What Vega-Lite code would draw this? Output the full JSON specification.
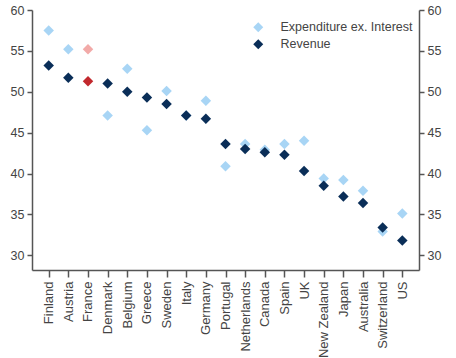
{
  "$schema": "https://vega.github.io/schema/vega-lite/v6.json",
  "width": 387,
  "height": 260,
  "autosize": {"type": "none"},
  "padding": {"left": 32, "top": 10, "right": 37, "bottom": 88},
  "background": "white",
  "config": {
    "font": "Liberation Sans",
    "view": {"stroke": null},
    "axis": {"grid": false, "domainColor": "#555", "tickColor": "#555", "labelColor": "#444", "labelFontSize": 12.5, "tickSize": 5, "domainWidth": 1.5, "tickWidth": 1.5}
  },
  "data": {"values": [
    {"country": "Finland", "series": "Expenditure ex. Interest", "key": "Expenditure ex. Interest", "value": 57.5},
    {"country": "Austria", "series": "Expenditure ex. Interest", "key": "Expenditure ex. Interest", "value": 55.2},
    {"country": "France", "series": "Expenditure ex. Interest", "key": "France Exp", "value": 55.2},
    {"country": "Denmark", "series": "Expenditure ex. Interest", "key": "Expenditure ex. Interest", "value": 47.1},
    {"country": "Belgium", "series": "Expenditure ex. Interest", "key": "Expenditure ex. Interest", "value": 52.8},
    {"country": "Greece", "series": "Expenditure ex. Interest", "key": "Expenditure ex. Interest", "value": 45.3},
    {"country": "Sweden", "series": "Expenditure ex. Interest", "key": "Expenditure ex. Interest", "value": 50.1},
    {"country": "Italy", "series": "Expenditure ex. Interest", "key": "Expenditure ex. Interest", "value": 47.1},
    {"country": "Germany", "series": "Expenditure ex. Interest", "key": "Expenditure ex. Interest", "value": 48.9},
    {"country": "Portugal", "series": "Expenditure ex. Interest", "key": "Expenditure ex. Interest", "value": 40.9},
    {"country": "Netherlands", "series": "Expenditure ex. Interest", "key": "Expenditure ex. Interest", "value": 43.6},
    {"country": "Canada", "series": "Expenditure ex. Interest", "key": "Expenditure ex. Interest", "value": 42.9},
    {"country": "Spain", "series": "Expenditure ex. Interest", "key": "Expenditure ex. Interest", "value": 43.6},
    {"country": "UK", "series": "Expenditure ex. Interest", "key": "Expenditure ex. Interest", "value": 44.0},
    {"country": "New Zealand", "series": "Expenditure ex. Interest", "key": "Expenditure ex. Interest", "value": 39.4},
    {"country": "Japan", "series": "Expenditure ex. Interest", "key": "Expenditure ex. Interest", "value": 39.2},
    {"country": "Australia", "series": "Expenditure ex. Interest", "key": "Expenditure ex. Interest", "value": 37.9},
    {"country": "Switzerland", "series": "Expenditure ex. Interest", "key": "Expenditure ex. Interest", "value": 32.9},
    {"country": "US", "series": "Expenditure ex. Interest", "key": "Expenditure ex. Interest", "value": 35.1},
    {"country": "Finland", "series": "Revenue", "key": "Revenue", "value": 53.2},
    {"country": "Austria", "series": "Revenue", "key": "Revenue", "value": 51.7},
    {"country": "France", "series": "Revenue", "key": "France Rev", "value": 51.3},
    {"country": "Denmark", "series": "Revenue", "key": "Revenue", "value": 51.0},
    {"country": "Belgium", "series": "Revenue", "key": "Revenue", "value": 50.0},
    {"country": "Greece", "series": "Revenue", "key": "Revenue", "value": 49.3},
    {"country": "Sweden", "series": "Revenue", "key": "Revenue", "value": 48.5},
    {"country": "Italy", "series": "Revenue", "key": "Revenue", "value": 47.1},
    {"country": "Germany", "series": "Revenue", "key": "Revenue", "value": 46.7},
    {"country": "Portugal", "series": "Revenue", "key": "Revenue", "value": 43.6},
    {"country": "Netherlands", "series": "Revenue", "key": "Revenue", "value": 43.0},
    {"country": "Canada", "series": "Revenue", "key": "Revenue", "value": 42.6},
    {"country": "Spain", "series": "Revenue", "key": "Revenue", "value": 42.3},
    {"country": "UK", "series": "Revenue", "key": "Revenue", "value": 40.3},
    {"country": "New Zealand", "series": "Revenue", "key": "Revenue", "value": 38.5},
    {"country": "Japan", "series": "Revenue", "key": "Revenue", "value": 37.2},
    {"country": "Australia", "series": "Revenue", "key": "Revenue", "value": 36.4},
    {"country": "Switzerland", "series": "Revenue", "key": "Revenue", "value": 33.4},
    {"country": "US", "series": "Revenue", "key": "Revenue", "value": 31.8}
  ]},
  "encoding": {
    "x": {"field": "country", "type": "nominal", "sort": null, "scale": {"type": "point", "padding": 0.85}, "title": null,
      "axis": {"labelAngle": -90, "labelPadding": 4, "tickSize": 7, "labelFontSize": 13}},
    "y": {"field": "value", "type": "quantitative", "scale": {"domain": [28.2, 60], "nice": false, "zero": false}, "title": null}
  },
  "layer": [
    {
      "mark": {"type": "point", "shape": "diamond", "filled": true, "size": 110, "opacity": 1},
      "encoding": {
        "y": {"field": "value", "type": "quantitative", "axis": {"values": [30, 35, 40, 45, 50, 55, 60], "orient": "left", "labelPadding": 3}},
        "order": {"field": "series", "sort": "ascending"},
        "color": {"field": "key", "type": "nominal",
          "scale": {"domain": ["Expenditure ex. Interest", "Revenue", "France Exp", "France Rev"], "range": ["#A8D5F5", "#0A2E58", "#F2AAA8", "#C2282D"]},
          "legend": {"values": ["Expenditure ex. Interest", "Revenue"], "title": null, "orient": "none", "legendX": 220, "legendY": 11, "symbolType": "diamond", "symbolSize": 100, "labelFontSize": 12.5, "labelColor": "#444", "rowPadding": 4, "labelOffset": 16}
        }
      }
    },
    {
      "mark": {"type": "point", "opacity": 0},
      "encoding": {
        "y": {"field": "value", "type": "quantitative", "axis": {"values": [30, 35, 40, 45, 50, 55, 60], "orient": "right", "labelPadding": 3}}
      }
    }
  ],
  "resolve": {"axis": {"y": "independent"}}
}
